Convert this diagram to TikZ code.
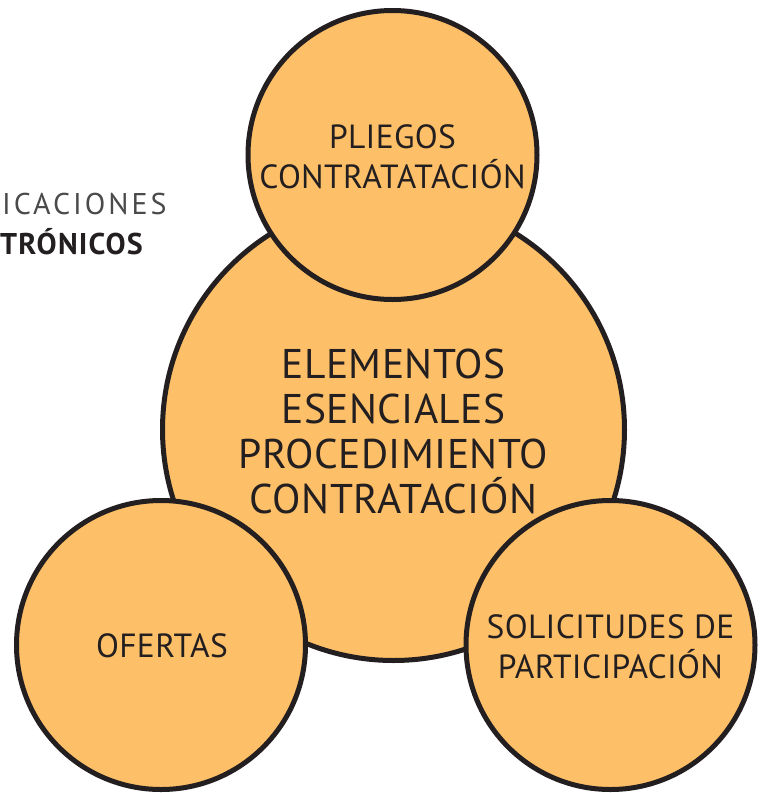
\documentclass[tikz,border=0pt]{standalone}
\usepackage{fontspec}
\setmainfont{PT Sans}
\definecolor{fillor}{HTML}{FDBF67}
\definecolor{ink}{HTML}{231F20}
\definecolor{greytxt}{HTML}{4A4A4A}
\begin{document}
\begin{tikzpicture}[x=1pt,y=-1pt,
  bubble/.style={circle,draw=ink,fill=fillor,line width=5pt,inner sep=0pt},
  smallbubble/.style={bubble,minimum size=289pt},
  bigbubble/.style={bubble,minimum size=462pt},
  lbl/.style={text=ink,align=center,font=\fontsize{33.5}{39.5}\selectfont\addfontfeature{LetterSpace=1}},
  biglbl/.style={text=ink,align=center,font=\fontsize{41.5}{45}\selectfont\addfontfeature{LetterSpace=1}}]
\useasboundingbox (0,0) rectangle (760,793);
\node[bigbubble] (main) at (393.5,429.5) {};
\node[smallbubble] (top) at (392.5,155) {};
\node[smallbubble] (left) at (161,645) {};
\node[smallbubble] (right) at (610.5,645) {};
\node[biglbl] (mainlbl) at (393.5,431) {ELEMENTOS\\ESENCIALES\\PROCEDIMIENTO\\CONTRATACIÓN};
\node[lbl] (toplbl) at (392.5,157) {PLIEGOS\\CONTRATATACIÓN};
\node[lbl] (leftlbl) at (162,646) {OFERTAS};
\node[lbl] (rightlbl) at (610.5,647) {SOLICITUDES DE\\PARTICIPACIÓN};
\node[anchor=base west,inner sep=0pt,text=greytxt,font=\fontsize{30}{34}\selectfont\addfontfeature{LetterSpace=10}] (t1) at (2,214) {ICACIONES};
\node[anchor=base west,inner sep=0pt,text=ink,font=\fontsize{30}{34}\selectfont\bfseries\addfontfeature{LetterSpace=4}] (t2) at (0,254) {TRÓNICOS};
\end{tikzpicture}
\end{document}
